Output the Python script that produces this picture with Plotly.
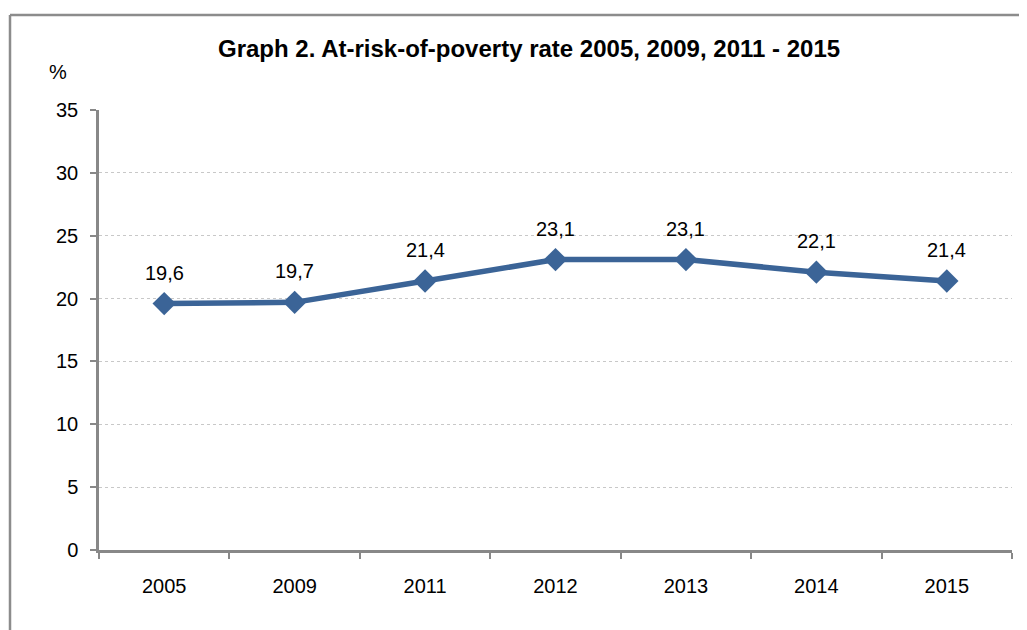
import plotly.graph_objects as go

years = ["2005", "2009", "2011", "2012", "2013", "2014", "2015"]
rates = [19.6, 19.7, 21.4, 23.1, 23.1, 22.1, 21.4]
labels = ["19,6", "19,7", "21,4", "23,1", "23,1", "22,1", "21,4"]
y_ticks = [0, 5, 10, 15, 20, 25, 30, 35]

# page body has an 8px margin; coordinates below are in figure pixels
W, H = 1027, 630
OFF = 8
L, T = 99 - OFF, 110 - OFF
R = W - (1012 - OFF)
B = H - (550 - OFF)
pw, ph = W - L - R, H - T - B

def px_x(x):
    return (x - OFF - L) / pw

def px_y(y):
    return (H - B - (y - OFF)) / ph

FONT = "Liberation Sans, Arial"

fig = go.Figure()
fig.add_trace(go.Scatter(
    x=years, y=rates, mode="lines+markers",
    line=dict(color="#3B6497", width=5.5),
    marker=dict(symbol="diamond", size=18, color="#3B6497"),
    hoverinfo="skip", showlegend=False,
))

for i, (y, t) in enumerate(zip(rates, labels)):
    fig.add_annotation(x=i, y=y, text=t, showarrow=False, yshift=31,
                       font=dict(family=FONT, size=20, color="#000"))

fig.add_annotation(xref="paper", yref="paper", x=px_x(58), y=px_y(72), text="%",
                   showarrow=False, xanchor="center", yanchor="middle",
                   font=dict(family=FONT, size=20, color="#000"))

fig.add_annotation(xref="paper", yref="paper", x=px_x(529), y=px_y(48),
                   text="<b>Graph 2. At-risk-of-poverty rate 2005, 2009, 2011 - 2015</b>",
                   showarrow=False, xanchor="center", yanchor="middle",
                   font=dict(family=FONT, size=24, color="#000"))

frame = dict(color="#8c8c8c", width=2.5)
fig.add_shape(type="line", xref="paper", yref="paper", x0=px_x(10), x1=px_x(1060),
              y0=px_y(15), y1=px_y(15), line=frame)
fig.add_shape(type="line", xref="paper", yref="paper", x0=px_x(10), x1=px_x(10),
              y0=px_y(15), y1=px_y(680), line=frame)

fig.update_layout(
    width=W, height=H,
    margin=dict(l=L, r=R, t=T, b=B),
    paper_bgcolor="white", plot_bgcolor="white",
    font=dict(family=FONT, size=20, color="#000"),
    xaxis=dict(type="category", range=[-0.5, len(years) - 0.5], tickson="boundaries",
               ticks="outside", ticklen=6, tickangle=0, automargin=False,
               tickcolor="#888", tickwidth=2, showline=True, linecolor="#888", linewidth=2.5,
               showgrid=False, ticklabelstandoff=16, fixedrange=True),
    yaxis=dict(range=[0, 35], tickvals=y_ticks, ticks="outside", ticklen=6, automargin=False,
               tickcolor="#888", tickwidth=2, showline=True, linecolor="#888", linewidth=2.5,
               showgrid=True, gridcolor="#c8c8c8", griddash="dot", gridwidth=1,
               zeroline=False, ticklabelstandoff=8, fixedrange=True),
)

fig.write_html("out.html")
